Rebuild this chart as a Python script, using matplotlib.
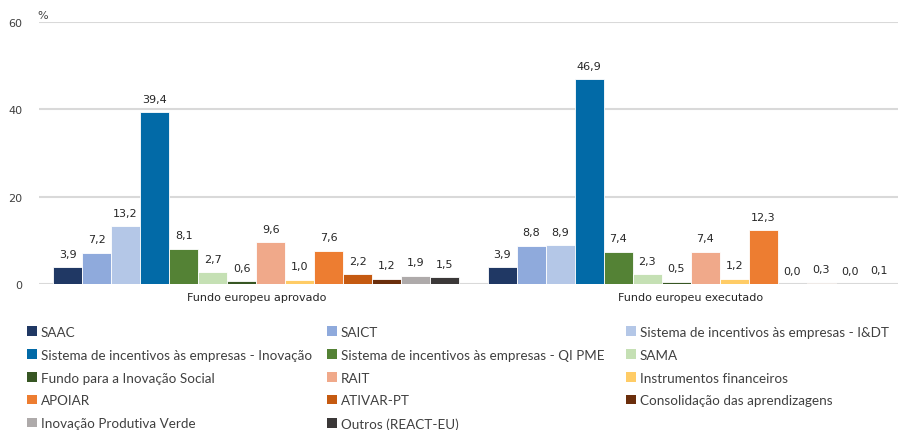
import numpy as np
import matplotlib.pyplot as plt
from matplotlib.patches import Patch

categorias = ['Fundo europeu aprovado', 'Fundo europeu executado']
series = ['SAAC', 'SAICT', 'Sistema de incentivos às empresas - I&DT',
          'Sistema de incentivos às empresas - Inovação',
          'Sistema de incentivos às empresas - QI PME', 'SAMA',
          'Fundo para a Inovação Social', 'RAIT', 'Instrumentos financeiros',
          'APOIAR', 'ATIVAR-PT', 'Consolidação das aprendizagens',
          'Inovação Produtiva Verde', 'Outros (REACT-EU)']
aprovado = [3.9, 7.2, 13.2, 39.4, 8.1, 2.7, 0.6, 9.6, 1.0, 7.6, 2.2, 1.2, 1.9, 1.5]
executado = [3.9, 8.8, 8.9, 46.9, 7.4, 2.3, 0.5, 7.4, 1.2, 12.3, 0.0, 0.3, 0.0, 0.1]
cores = ['#203864', '#8FAADC', '#B4C7E7', '#026AA7', '#548235', '#C5E0B4',
         '#375623', '#F0A98A', '#FFCC66', '#ED7D31', '#C55A11', '#6B2E0C',
         '#AEAAAA', '#3B3838']

valores = np.array([aprovado, executado])
nSeries = len(series)
largura = 0.0668

fig = plt.figure(figsize=(8.98, 4.31), dpi=100)
ax = fig.add_axes([39/898, 1-285/431, 859/898, 262/431])

x = np.arange(len(categorias))
for i in range(nSeries):
    pos = x - largura*nSeries/2 + largura*(i+0.5)
    barras = ax.bar(pos, valores[:, i], largura, color=cores[i],
                    edgecolor='white', linewidth=0.6, zorder=3)
    rotulos = [f'{v:.1f}'.replace('.', ',') for v in valores[:, i]]
    ax.bar_label(barras, labels=rotulos, padding=6, fontsize=8, color='#262626')

ax.set_xlim(-0.5, 1 + (898-691)/434)
ax.set_ylim(0, 60)
ax.set_yticks([0, 20, 40, 60])
ax.set_xticks(x)
ax.set_xticklabels(categorias, fontsize=8, color='#262626')
ax.tick_params(axis='y', labelsize=8, colors='#404040', length=0, pad=12)
ax.tick_params(axis='x', length=0, pad=6)
ax.grid(axis='y', color='#D9D9D9', linewidth=1.5, zorder=0)
for s in ax.spines.values():
    s.set_visible(False)
fig.text(37/898, 1-16/431, '%', fontsize=8, color='#404040', ha='left', va='center')

#Legenda em tres colunas, com ordem por linhas
xs_colunas = [27/898, 327/898, 626/898]
for c in range(3):
    idx = list(range(c, nSeries, 3))
    handles = [Patch(facecolor=cores[i], edgecolor='none') for i in idx]
    labels = [series[i] for i in idx]
    fig.legend(handles, labels, loc='upper left', bbox_to_anchor=(xs_colunas[c], 1-327/431),
               frameon=False, handlelength=0.72, handleheight=0.72, handletextpad=0.3,
               labelspacing=0.8, borderpad=0, borderaxespad=0,
               prop={'family': 'Lato', 'size': 9.7}, labelcolor='#404040')

fig.savefig('out.png', dpi=100)
